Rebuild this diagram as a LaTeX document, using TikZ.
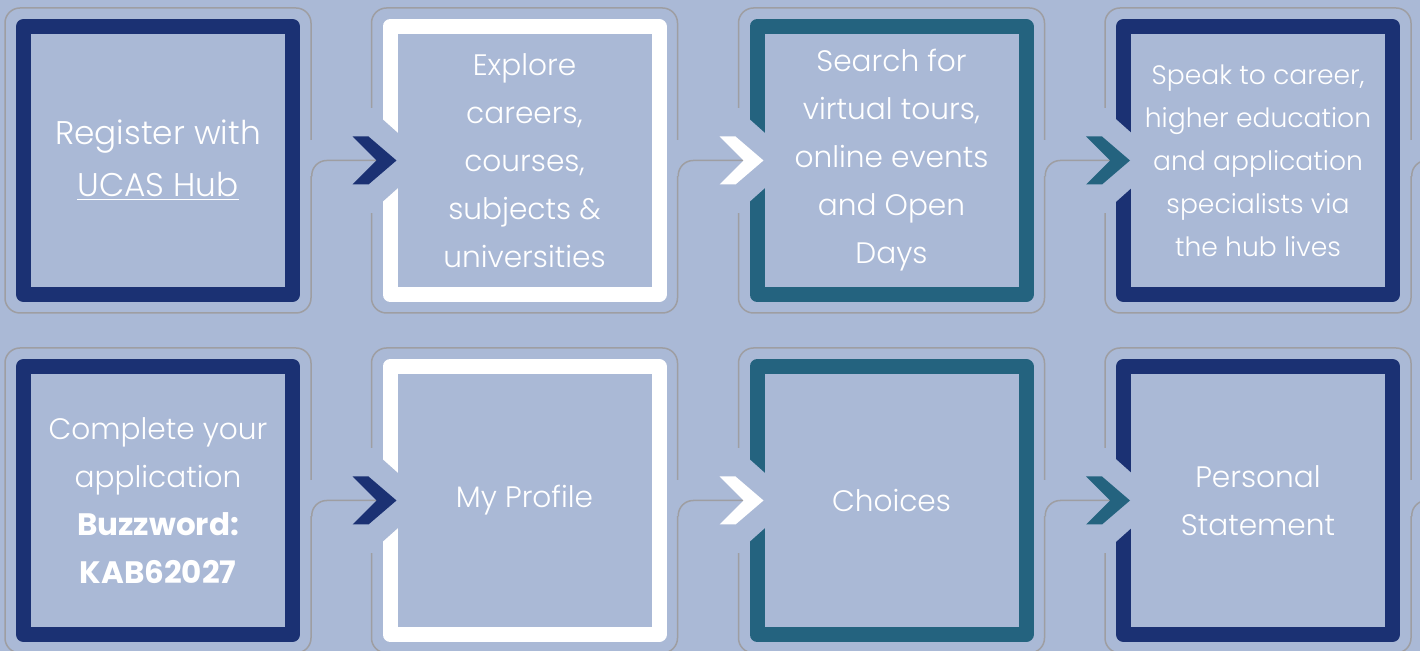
\documentclass[tikz,border=0pt]{standalone}
\usepackage{fontspec}
\setmainfont{Poppins}[UprightFont={* Light},BoldFont={* Bold}]
\definecolor{HubBack}{RGB}{170,185,214}
\definecolor{HubNavy}{RGB}{27,49,115}
\definecolor{HubTeal}{RGB}{36,99,127}
\definecolor{HubGrey}{RGB}{158,158,162}

\begin{document}
\begin{tikzpicture}[x=0.5pt,y=-0.5pt]
	\tikzstyle{frame}=[draw=HubGrey, line width=0.75pt, rounded corners=7.5pt, minimum width=153pt, minimum height=152.5pt, inner sep=0pt]
	\tikzstyle{stepbox}=[line width=7.5pt, line join=round, minimum width=134.5pt, minimum height=134pt, inner sep=0pt, text=white, align=center, font=\fontsize{14.8}{24}\selectfont]
	\tikzstyle{wire}=[draw=HubGrey, line width=0.75pt, rounded corners=7.5pt]
	\tikzstyle{gap}=[fill=HubBack]
	\clip (0,0) rectangle (1420,651);
	\fill[HubBack] (0,0) rectangle (1420,651);
	% grey frames
	\node[frame] (g11) at (158,160.5) {};
	\node[frame] (g12) at (524.5,160.5) {};
	\node[frame] (g13) at (891.5,160.5) {};
	\node[frame] (g14) at (1258,160.5) {};
	\node[frame] (g21) at (158,500.5) {};
	\node[frame] (g22) at (524.5,500.5) {};
	\node[frame] (g23) at (891.5,500.5) {};
	\node[frame] (g24) at (1258,500.5) {};
	% openings in the frames
	\fill[gap] ([shift={(-3,-20.5)}]g11.east) rectangle ([shift={(3,16)}]g11.east);
	\fill[gap] ([shift={(-3,-20.5)}]g12.east) rectangle ([shift={(3,16)}]g12.east);
	\fill[gap] ([shift={(-3,-20.5)}]g13.east) rectangle ([shift={(3,16)}]g13.east);
	\fill[gap] ([shift={(-3,-20.5)}]g14.east) rectangle ([shift={(3,16)}]g14.east);
	\fill[gap] ([shift={(-3,-20.5)}]g21.east) rectangle ([shift={(3,16)}]g21.east);
	\fill[gap] ([shift={(-3,-20.5)}]g22.east) rectangle ([shift={(3,16)}]g22.east);
	\fill[gap] ([shift={(-3,-20.5)}]g23.east) rectangle ([shift={(3,16)}]g23.east);
	\fill[gap] ([shift={(-3,-20.5)}]g24.east) rectangle ([shift={(3,16)}]g24.east);
	\fill[gap] ([shift={(-3,-52.5)}]g12.west) rectangle ([shift={(3,52.5)}]g12.west);
	\fill[gap] ([shift={(-3,-52.5)}]g13.west) rectangle ([shift={(3,52.5)}]g13.west);
	\fill[gap] ([shift={(-3,-52.5)}]g14.west) rectangle ([shift={(3,52.5)}]g14.west);
	\fill[gap] ([shift={(-3,-52.5)}]g22.west) rectangle ([shift={(3,52.5)}]g22.west);
	\fill[gap] ([shift={(-3,-52.5)}]g23.west) rectangle ([shift={(3,52.5)}]g23.west);
	\fill[gap] ([shift={(-3,-52.5)}]g24.west) rectangle ([shift={(3,52.5)}]g24.west);
	% chevron points
	\coordinate (n12) at (376.5,160.5);
	\coordinate (n13) at (743.5,160.5);
	\coordinate (n14) at (1110,160.5);
	\coordinate (n15) at (1440,160.5);
	\coordinate (n22) at (376.5,500.5);
	\coordinate (n23) at (743.5,500.5);
	\coordinate (n24) at (1110,500.5);
	\coordinate (n25) at (1440,500.5);
	% connectors
	\draw[wire] ([shift={(0,16)}]g11.east) |- (n12);
	\draw[wire] ([shift={(0,16)}]g12.east) |- (n13);
	\draw[wire] ([shift={(0,16)}]g13.east) |- (n14);
	\draw[wire] ([shift={(0,16)}]g14.east) |- (n15);
	\draw[wire] ([shift={(0,16)}]g21.east) |- (n22);
	\draw[wire] ([shift={(0,16)}]g22.east) |- (n23);
	\draw[wire] ([shift={(0,16)}]g23.east) |- (n24);
	\draw[wire] ([shift={(0,16)}]g24.east) |- (n25);
	% steps
	\node[stepbox, draw=HubNavy, font=\fontsize{16.4}{26}\selectfont] (b11) at (158,160.5) {Register with\\\underline{UCAS Hub}};
	\node[stepbox, draw=white] (b12) at (524.5,160.5) {Explore\\careers,\\courses,\\subjects \&\\universities};
	\node[stepbox, draw=HubTeal] (b13) at (891.5,160.5) {Search for\\virtual tours,\\online events\\and Open\\Days};
	\node[stepbox, draw=HubNavy, font=\fontsize{13.3}{21.5}\selectfont] (b14) at (1258,160.5) {Speak to career,\\higher education\\and application\\specialists via\\the hub lives};
	\node[stepbox, draw=HubNavy] (b21) at (158,500.5) {Complete your\\application\\{\fontsize{15.5}{24}\selectfont\textbf{Buzzword:}}\\{\fontsize{15.5}{24}\selectfont\textbf{KAB62027}}};
	\node[stepbox, draw=white] (b22) at (524.5,500.5) {My Profile};
	\node[stepbox, draw=HubTeal] (b23) at (891.5,500.5) {Choices};
	\node[stepbox, draw=HubNavy] (b24) at (1258,500.5) {Personal\\Statement};
	% chevrons
	\fill[gap] (n12) ++(3,-44) -- ++(19,17) -- ++(0,54) -- ++(-19,17) -- cycle;
	\fill[HubNavy] (n12) -- ++(-24,-24) -- ++(16,0) -- ++(28,24) -- ++(-28,24) -- ++(-16,0) -- cycle;
	\fill[gap] (n13) ++(3,-44) -- ++(19,17) -- ++(0,54) -- ++(-19,17) -- cycle;
	\fill[white] (n13) -- ++(-24,-24) -- ++(16,0) -- ++(28,24) -- ++(-28,24) -- ++(-16,0) -- cycle;
	\fill[gap] (n14) ++(3,-44) -- ++(19,17) -- ++(0,54) -- ++(-19,17) -- cycle;
	\fill[HubTeal] (n14) -- ++(-24,-24) -- ++(16,0) -- ++(28,24) -- ++(-28,24) -- ++(-16,0) -- cycle;
	\fill[gap] (n22) ++(3,-44) -- ++(19,17) -- ++(0,54) -- ++(-19,17) -- cycle;
	\fill[HubNavy] (n22) -- ++(-24,-24) -- ++(16,0) -- ++(28,24) -- ++(-28,24) -- ++(-16,0) -- cycle;
	\fill[gap] (n23) ++(3,-44) -- ++(19,17) -- ++(0,54) -- ++(-19,17) -- cycle;
	\fill[white] (n23) -- ++(-24,-24) -- ++(16,0) -- ++(28,24) -- ++(-28,24) -- ++(-16,0) -- cycle;
	\fill[gap] (n24) ++(3,-44) -- ++(19,17) -- ++(0,54) -- ++(-19,17) -- cycle;
	\fill[HubTeal] (n24) -- ++(-24,-24) -- ++(16,0) -- ++(28,24) -- ++(-28,24) -- ++(-16,0) -- cycle;
\end{tikzpicture}
\end{document}
